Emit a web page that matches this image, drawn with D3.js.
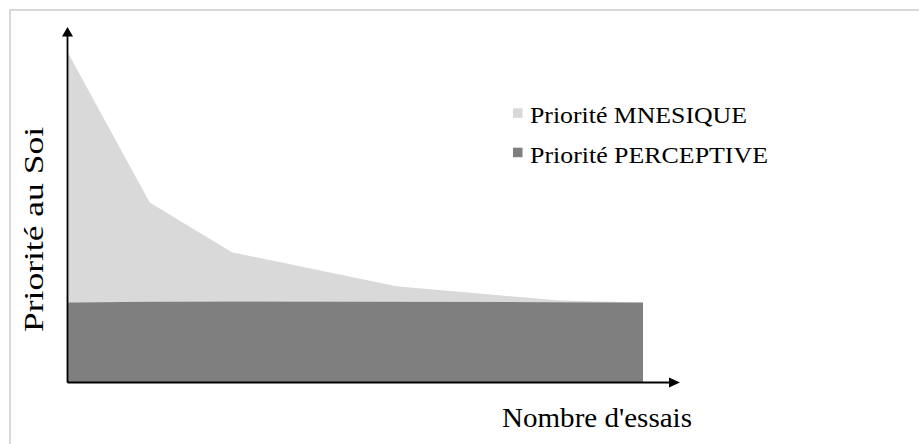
<!DOCTYPE html>
<html><head><meta charset="utf-8">
<script src="https://cdn.jsdelivr.net/npm/d3@7"></script>
<style>html,body{margin:0;padding:0;background:#fff;}svg{display:block;}</style>
</head><body>
<svg id="c" width="919" height="444"></svg>
<script>
const trials = [0, 1, 2, 4, 6, 7];
const perceptive = [2.42, 2.44, 2.45, 2.44, 2.43, 2.42];
const mnesique = [7.58, 3.01, 1.49, 0.47, 0.05, 0.0];
const seriesNames = ["Priorité MNESIQUE", "Priorité PERCEPTIVE"];
const seriesColors = ["#d9d9d9", "#7f7f7f"];
const xTitle = "Nombre d'essais";
const yTitle = "Priorité au Soi";

const svg = d3.select("#c");
svg.append("rect").attr("x",10).attr("y",10).attr("width",912).attr("height",440)
  .attr("fill","#fff").attr("stroke","#d9d9d9").attr("stroke-width",2);

const x = d3.scaleLinear().domain([0,7]).range([67.5,643]);
const y = d3.scaleLinear().domain([0,10]).range([382.5,52]);

const rows = trials.map((t,i)=>({t, p: perceptive[i], m: mnesique[i]}));
const stack = d3.stack().keys(["p","m"])(rows);

const area = d3.area().x(d=>x(d.data.t)).y0(d=>y(d[0])).y1(d=>y(d[1]));
svg.append("path").datum(stack[1]).attr("d",area).attr("fill",seriesColors[0]);
svg.append("path").datum(stack[0]).attr("d",area).attr("fill",seriesColors[1]);

// axes
const g = svg.append("g");
g.append("line").attr("x1",x(0)).attr("x2",670).attr("y1",y(0)).attr("y2",y(0))
  .attr("stroke","#000").attr("stroke-width",1.8);
g.append("path").attr("d",`M669,${y(0)-5}L680,${y(0)}L669,${y(0)+5}Z`).attr("fill","#000");
g.append("line").attr("x1",x(0)).attr("x2",x(0)).attr("y1",y(0)).attr("y2",36)
  .attr("stroke","#000").attr("stroke-width",1.8);
g.append("path").attr("d",`M${x(0)-5.5},36.5L${x(0)},27L${x(0)+5.5},36.5Z`).attr("fill","#000");

const font = "'Liberation Serif','Times New Roman',serif";
svg.append("text").attr("x",502).attr("y",427)
  .attr("font-family",font).attr("font-size",28).attr("fill","#000")
  .attr("textLength",190).attr("lengthAdjust","spacingAndGlyphs").text(xTitle);
svg.append("text").attr("transform","translate(43,332) rotate(-90)")
  .attr("font-family",font).attr("font-size",27).attr("fill","#000")
  .attr("textLength",205).attr("lengthAdjust","spacingAndGlyphs").text(yTitle);

const legLen = [217, 238];
const leg = svg.append("g");
seriesNames.forEach((n,i)=>{
  const base = 123.3 + i*39.4;
  leg.append("rect").attr("x",513).attr("y",base-15).attr("width",9.5).attr("height",9.5).attr("fill",seriesColors[i]);
  leg.append("text").attr("x",530).attr("y",base).attr("font-family",font).attr("font-size",23)
    .attr("textLength",legLen[i]).attr("lengthAdjust","spacingAndGlyphs")
    .attr("fill","#000").text(n);
});
</script>
</body></html>
